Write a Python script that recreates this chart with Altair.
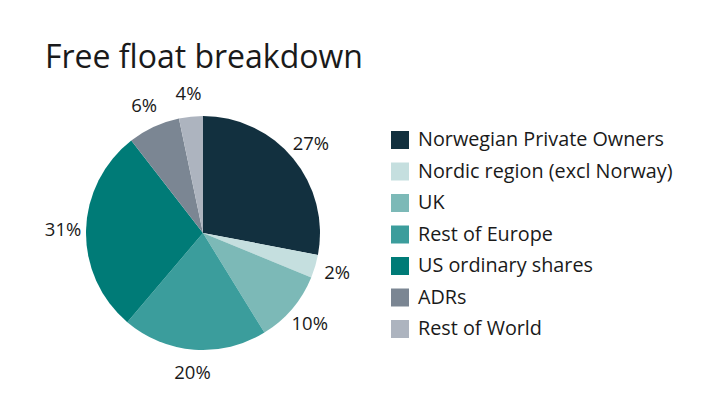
import altair as alt
import pandas as pd

categories = ["Norwegian Private Owners", "Nordic region (excl Norway)", "UK",
              "Rest of Europe", "US ordinary shares", "ADRs", "Rest of World"]
shares = [28.0, 3.2, 10.0, 20.0, 28.3, 7.2, 3.3]
labels = ["27%", "2%", "10%", "20%", "31%", "6%", "4%"]
colors = ["#12303f", "#c5dfdf", "#7cb9b7", "#3b9d9c", "#007b77", "#7b8693", "#adb4bf"]

df = pd.DataFrame({"cat": categories, "share": shares, "label": labels,
                   "order": list(range(len(categories)))})

FONT = "Open Sans"
cx, cy, R = 195, 225, 117

color = alt.Color("cat:N", scale=alt.Scale(domain=categories, range=colors), legend=None)
theta = alt.Theta("share:Q", stack=True)
order = alt.Order("order:Q")

base = alt.Chart(df)

arcs = base.mark_arc(radius=R, stroke=None).encode(
    theta=theta, color=color, order=order,
    x=alt.value(cx), y=alt.value(cy))

pct = base.mark_text(radius=140, font=FONT, fontSize=18.5, color="#1a1a1a").encode(
    theta=theta, order=order, text="label:N",
    x=alt.value(cx), y=alt.value(cy))

ypos = alt.Y("cat:N", sort=categories, axis=None,
             scale=alt.Scale(type="point", domain=categories, range=[132, 321], padding=0))

squares = base.mark_square(size=324, opacity=1).encode(
    x=alt.value(392), y=ypos, color=color)

legend_text = base.mark_text(align="left", baseline="middle", font=FONT, fontSize=19.8,
                             color="#1a1a1a").encode(
    x=alt.value(410), y=ypos, text="cat:N")

title = alt.Chart(pd.DataFrame({"t": ["Free float breakdown"]})).mark_text(
    align="left", baseline="alphabetic", font=FONT, fontSize=32, fontWeight="normal",
    color="#1a1a1a").encode(x=alt.value(37), y=alt.value(60), text="t:N")

chart = alt.layer(arcs, pct, squares, legend_text, title).properties(
    width=712, height=379,
    autosize=alt.AutoSizeParams(type="none"),
    padding=0,
).configure_view(stroke=None)

chart.save("out.html", embed_options={"renderer": "svg", "actions": False})
